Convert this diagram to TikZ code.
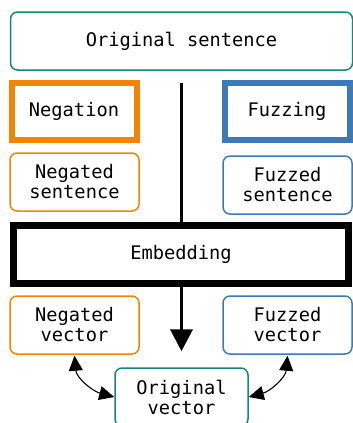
\documentclass[tikz,border=0pt]{standalone}
\usepackage{fontspec}
\setmonofont{DejaVu Sans Mono}
\usetikzlibrary{arrows.meta}
\definecolor{teal}{RGB}{22,135,122}
\definecolor{orng}{RGB}{242,133,0}
\definecolor{blu}{RGB}{63,122,184}

\begin{document}
\begin{tikzpicture}[x=1pt,y=1pt,
	every node/.style={font=\ttfamily\fontsize{18.7}{20}\selectfont,align=center},
	soft/.style={draw=#1,line width=1.5pt,rounded corners=7pt,minimum height=58pt,fill=white},
	hard/.style={draw=#1,line width=6pt,fill=white,minimum height=57pt,minimum width=125pt},
	flow/.style={line width=3.8pt,-{Triangle[width=22pt,length=22pt]}},
	link/.style={line width=1.1pt,{Triangle[length=15pt,width=14pt]}-{Triangle[length=15pt,width=14pt]}}]
		\useasboundingbox (0,0) rectangle (353,-423);
		\node[soft=teal,minimum width=342pt] (sent) at (181.5,-41) {Original sentence};
		\node[soft=teal,minimum width=133pt] (ovec) at (181.5,-397) {Original\\vector};
		\draw[flow] ([yshift=-12pt]sent.south) -- ([yshift=16pt]ovec.north);
		\node[hard=orng] (neg) at (74,-111.5) {Negation};
		\node[hard=blu] (fuz) at (287,-111.5) {Fuzzing};
		\node[soft=orng,minimum width=129pt] (nsent) at (74.5,-182) {Negated\\sentence};
		\node[soft=blu,minimum width=129pt] (fsent) at (287.5,-185) {Fuzzed\\sentence};
		\node[draw,line width=7pt,fill=white,minimum width=335pt,minimum height=58pt] (emb) at (181,-254.5) {Embedding};
		\node[soft=orng,minimum width=129pt] (nvec) at (74.5,-325) {Negated\\vector};
		\node[soft=blu,minimum width=129pt] (fvec) at (287.5,-325) {Fuzzed\\vector};
		\draw[link] ([yshift=-1pt]nvec.south) to[out=-85,in=165] (ovec.west);
		\draw[link] ([yshift=-1pt]fvec.south) to[out=-95,in=15] (ovec.east);
\end{tikzpicture}
\end{document}
